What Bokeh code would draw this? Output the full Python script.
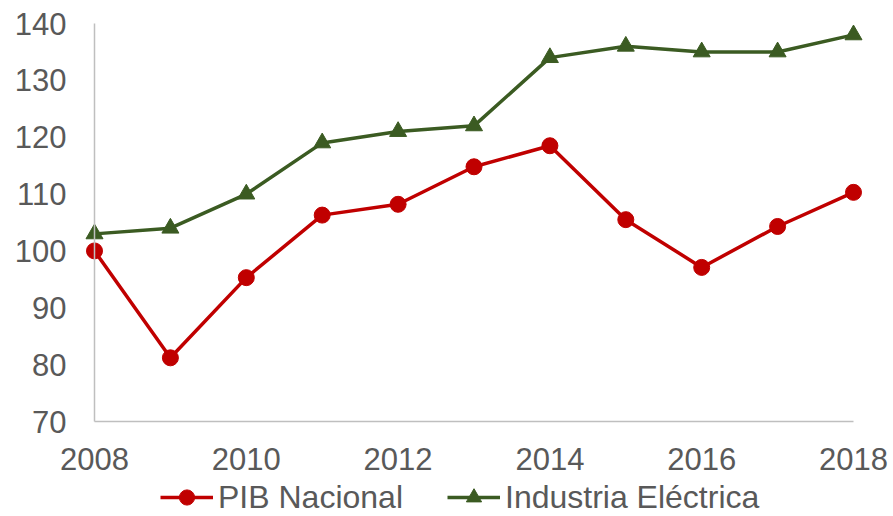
from bokeh.plotting import figure
from bokeh.models import Legend, LegendItem, Range1d, FixedTicker
from bokeh.embed import file_html
from bokeh.resources import INLINE

years = [2008, 2009, 2010, 2011, 2012, 2013, 2014, 2015, 2016, 2017, 2018]
pib_nacional = [100, 81.2, 95.3, 106.3, 108.2, 114.8, 118.5, 105.5, 97.1, 104.3, 110.3]
industria_electrica = [103, 104, 110, 119, 121, 122, 134, 136, 135, 135, 138]
x_ticks = [2008, 2010, 2012, 2014, 2016, 2018]
y_ticks = [70, 80, 90, 100, 110, 120, 130, 140]
X_MIN, X_MAX = 2008, 2018
Y_MIN, Y_MAX = 70, 140

RED = "#C00000"
GREEN = "#3B5B22"
FONT = "Liberation Sans"
GREY_TXT = "#595959"
FS = "31px"

# data area in screen pixels; the frame covers the whole canvas so that the
# bounded, fixed-location axes, their labels and the legend all fit inside it
PLOT_LEFT, PLOT_TOP, PLOT_W, PLOT_H = 94, 23, 759, 398
FRAME_W, FRAME_H = 893, 516
px_per_x = PLOT_W / (X_MAX - X_MIN)
px_per_y = PLOT_H / (Y_MAX - Y_MIN)
x_start = X_MIN - PLOT_LEFT / px_per_x
x_end = X_MAX + (FRAME_W - PLOT_LEFT - PLOT_W) / px_per_x
y_end = Y_MAX + PLOT_TOP / px_per_y
y_start = Y_MIN - (FRAME_H - PLOT_TOP - PLOT_H) / px_per_y

p = figure(output_backend="svg", toolbar_location=None,
           x_range=Range1d(x_start, x_end), y_range=Range1d(y_start, y_end),
           frame_width=FRAME_W, frame_height=FRAME_H,
           min_border_left=0, min_border_top=0, min_border_right=0, min_border_bottom=0)
p.outline_line_color = None
p.xgrid.grid_line_color = None
p.ygrid.grid_line_color = None

for ax in (p.xaxis[0], p.yaxis[0]):
    ax.axis_line_color = "#BFBFBF"
    ax.axis_line_width = 1.5
    ax.major_tick_line_color = None
    ax.minor_tick_line_color = None
    ax.major_label_text_font = FONT
    ax.major_label_text_font_size = FS
    ax.major_label_text_color = GREY_TXT

p.xaxis.ticker = FixedTicker(ticks=x_ticks)
p.yaxis.ticker = FixedTicker(ticks=y_ticks)
p.xaxis.bounds = (X_MIN, X_MAX)
p.yaxis.bounds = (Y_MIN, Y_MAX)
p.xaxis.fixed_location = Y_MIN
p.yaxis.fixed_location = X_MIN
p.xaxis.major_label_standoff = 20
p.yaxis.major_label_standoff = 22

l1 = p.line(years, pib_nacional, line_color=RED, line_width=3.5)
s1 = p.scatter(years, pib_nacional, marker="circle", size=16, fill_color=RED, line_color=RED)
l2 = p.line(years, industria_electrica, line_color=GREEN, line_width=3.5)
s2 = p.scatter(years, industria_electrica, marker="triangle", size=17, fill_color=GREEN, line_color=GREEN)

legend = Legend(items=[LegendItem(label="PIB Nacional", renderers=[l1, s1]),
                       LegendItem(label="Industria Eléctrica", renderers=[l2, s2])],
                orientation="horizontal", location=(160, 0),
                label_text_font=FONT, label_text_font_size="32px", label_text_color=GREY_TXT,
                glyph_width=53, glyph_height=38, label_height=38, label_standoff=5, spacing=44,
                padding=0, margin=0, border_line_color=None, background_fill_alpha=0)
p.add_layout(legend, "center")

open("out.html", "w").write(file_html(p, INLINE))
